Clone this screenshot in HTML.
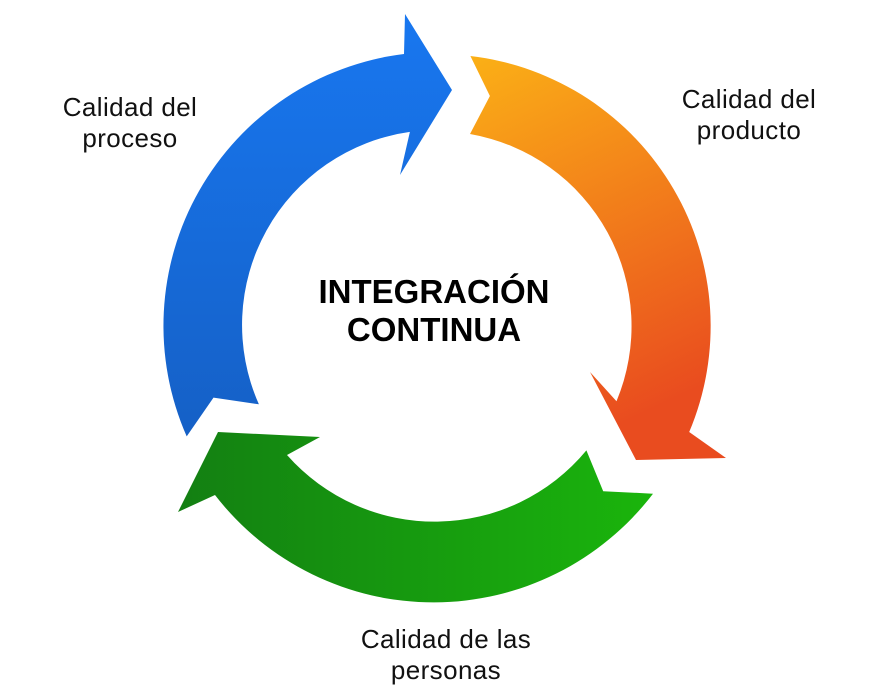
<!DOCTYPE html>
<html><head><meta charset="utf-8"><style>
html,body{margin:0;padding:0;background:#fff;}
svg{display:block;}
text{font-family:"Liberation Sans",sans-serif;}
</style></head><body>
<svg width="879" height="693" viewBox="0 0 879 693" xmlns="http://www.w3.org/2000/svg">
<defs>
<linearGradient id="gb" x1="0" y1="0" x2="0" y2="1">
<stop offset="0" stop-color="#1877f0"/><stop offset="1" stop-color="#1560c6"/></linearGradient>
<linearGradient id="go" x1="0" y1="0" x2="0.3" y2="1">
<stop offset="0" stop-color="#fbb016"/><stop offset="1" stop-color="#e94c1f"/></linearGradient>
<linearGradient id="gg" x1="1" y1="0" x2="0" y2="0">
<stop offset="0" stop-color="#1ab50c"/><stop offset="1" stop-color="#137f12"/></linearGradient>
</defs>
<path fill="url(#gb)" d="M186.7,436.4 A274,274 0 0 1 404,54 L405,14 L452,90 L400,175 L409.9,131.9 A195,195 0 0 0 258.9,404.3 L213.5,397.6 Z"/>
<path fill="url(#go)" d="M470.4,56 A272,272 0 0 1 689.2,432 L726,458 L636,460 L590,372 L616.5,401.2 A195,195 0 0 0 470,134 L489.9,96 Z"/>
<path fill="url(#gg)" d="M653,493.7 A276,276 0 0 1 215,495 L178,512 L218,432 L320,437 L287,455 A197,197 0 0 0 586.4,450.4 L603.2,491.2 Z"/>
<g font-size="26" fill="#111" text-anchor="middle" letter-spacing="0.4">
<text x="130" y="116">Calidad del</text>
<text x="130" y="147">proceso</text>
<text x="749" y="108">Calidad del</text>
<text x="749" y="139">producto</text>
<text x="446" y="648">Calidad de las</text>
<text x="446" y="679">personas</text>
</g>
<g font-size="33" font-weight="bold" fill="#000" text-anchor="middle">
<text x="434" y="303">INTEGRACIÓN</text>
<text x="434" y="341">CONTINUA</text>
</g>
</svg>
</body></html>
